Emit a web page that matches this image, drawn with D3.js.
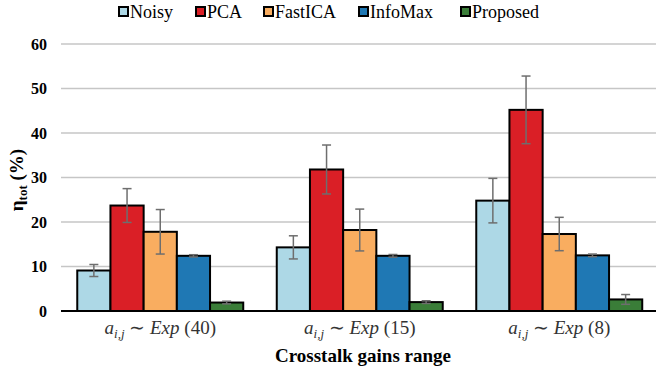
<!DOCTYPE html>
<html><head><meta charset="utf-8">
<script src="https://cdn.jsdelivr.net/npm/d3@7"></script>
</head><body style="margin:0"><svg id="c" width="656" height="372"></svg>
<script>
const categories = ["40", "15", "8"];
const seriesNames = ["Noisy", "PCA", "FastICA", "InfoMax", "Proposed"];
const colors = ["#ADD8E6", "#DA1F26", "#F9AD60", "#1F78B4", "#3A7D38"];
const noisy = [9.1, 14.3, 24.8];
const pca = [23.7, 31.8, 45.2];
const fastica = [17.8, 18.2, 17.3];
const infomax = [12.4, 12.4, 12.5];
const proposed = [1.9, 2.0, 2.6];
const noisyErr = [1.35, 2.6, 5.0];
const pcaErr = [3.8, 5.5, 7.6];
const fasticaErr = [5.0, 4.7, 3.75];
const infomaxErr = [0.25, 0.3, 0.3];
const proposedErr = [0.3, 0.3, 1.1];
const yTicks = [0, 10, 20, 30, 40, 50, 60];

const values = [noisy, pca, fastica, infomax, proposed];
const errs = [noisyErr, pcaErr, fasticaErr, infomaxErr, proposedErr];
const famName = "Liberation Serif";
const FONT = `"${famName}"`;

const svg = d3.select("#c");
const x0 = d3.scaleBand().domain(categories).range([60.5, 659]).paddingInner(0.168).paddingOuter(0.084);
const x1 = d3.scaleBand().domain(seriesNames).range([0, x0.bandwidth()]);
const y = d3.scaleLinear().domain([0, 60]).range([311, 44]);

svg.append("g").selectAll("line").data(yTicks.filter(d => d > 0)).join("line")
  .attr("x1", 61).attr("x2", 656).attr("y1", d => y(d)).attr("y2", d => y(d))
  .attr("stroke", "#c6c6c6").attr("stroke-width", 1.5);

svg.append("g").selectAll("text").data(yTicks).join("text")
  .attr("x", 47).attr("y", d => y(d) + 5.5).attr("text-anchor", "end")
  .attr("font-size", 16).attr("font-weight", "bold")
  .style("font-family", FONT).text(d => d);

const data = [];
categories.forEach((c, ci) => seriesNames.forEach((s, si) => data.push({c, s, si, v: values[si][ci], e: errs[si][ci]})));
svg.append("g").selectAll("rect").data(data).join("rect")
  .attr("x", d => x0(d.c) + x1(d.s)).attr("width", x1.bandwidth())
  .attr("y", d => y(d.v)).attr("height", d => y(0) - y(d.v))
  .attr("fill", d => colors[d.si]).attr("stroke", "#000").attr("stroke-width", 2);

const eb = svg.append("g").attr("stroke", "#6e6e6e").attr("stroke-width", 1.5);
data.forEach(d => {
  const cx = x0(d.c) + x1(d.s) + x1.bandwidth() / 2;
  const t = y(d.v + d.e), b = y(d.v - d.e);
  eb.append("line").attr("x1", cx).attr("x2", cx).attr("y1", t).attr("y2", b);
  eb.append("line").attr("x1", cx - 4.5).attr("x2", cx + 4.5).attr("y1", t).attr("y2", t);
  eb.append("line").attr("x1", cx - 4.5).attr("x2", cx + 4.5).attr("y1", b).attr("y2", b);
});

svg.append("line").attr("x1", 61).attr("x2", 656).attr("y1", y(0)).attr("y2", y(0))
  .attr("stroke", "#000").attr("stroke-width", 2);

const xl = svg.append("g").selectAll("text").data(categories).join("text")
  .attr("x", d => x0(d) + x0.bandwidth() / 2).attr("y", 334).attr("text-anchor", "middle")
  .attr("font-size", 19).attr("fill", "#333").style("font-family", FONT);
xl.each(function(d) {
  const t = d3.select(this);
  t.append("tspan").attr("font-style", "italic").text("a");
  t.append("tspan").attr("font-style", "italic").attr("font-size", 13).attr("dy", 4).text("i,j");
  t.append("tspan").attr("dy", -4).text(" \u223C ");
  t.append("tspan").attr("font-style", "italic").text("Exp");
  t.append("tspan").text(" (" + d + ")");
});

svg.append("text").attr("x", 363).attr("y", 362).attr("text-anchor", "middle")
  .attr("font-size", 19).attr("font-weight", "bold").style("font-family", FONT)
  .text("Crosstalk gains range");

const yt = svg.append("text").attr("transform", "translate(23,180) rotate(-90)")
  .attr("text-anchor", "middle").attr("font-size", 19).attr("font-weight", "bold").style("font-family", FONT);
yt.append("tspan").text("\u03B7");
yt.append("tspan").attr("font-size", 13).attr("dy", 4).text("tot");
yt.append("tspan").attr("dy", -4).text(" (%)");

const legX = [119, 196, 264, 359, 461];
const lg = svg.append("g").selectAll("g").data(seriesNames).join("g")
  .attr("transform", (d, i) => `translate(${legX[i]},12)`);
lg.append("rect").attr("x", 0).attr("y", -5).attr("width", 9).attr("height", 9)
  .attr("fill", (d, i) => colors[i]).attr("stroke", "#000").attr("stroke-width", 2);
lg.append("text").attr("x", 11).attr("y", 6).attr("font-size", 18).style("font-family", FONT).text(d => d);
</script></body></html>
